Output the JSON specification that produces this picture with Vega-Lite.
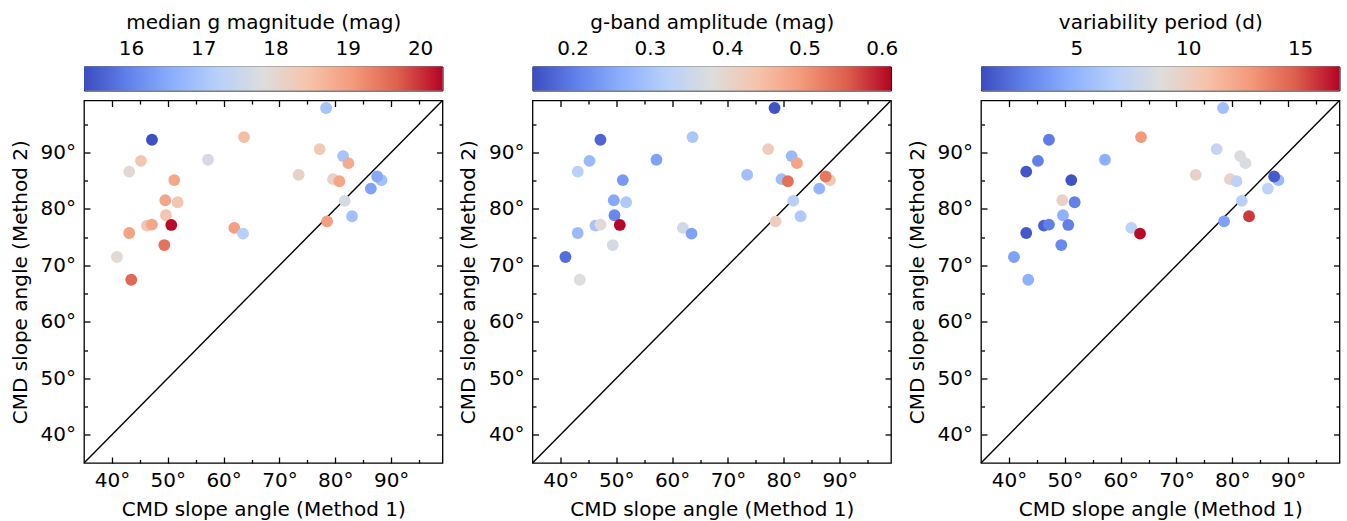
{
  "$schema": "https://vega.github.io/schema/vega-lite/v6.json",
  "padding": {"left": 9, "top": 11.5, "right": 5, "bottom": 5},
  "bounds": "flush",
  "columns": 3,
  "spacing": {"row": 10, "column": 89.5},
  "resolve": {"scale": {"color": "independent"}},
  "datasets": {
    "stars": [
      {"m1": 78.35, "m2": 97.87, "gmag": 16.95, "amp": 0.155, "per": 5.7},
      {"m1": 47.17, "m2": 92.25, "gmag": 15.4, "amp": 0.176, "per": 2.5},
      {"m1": 63.66, "m2": 92.72, "gmag": 18.55, "amp": 0.305, "per": 12.75},
      {"m1": 77.2, "m2": 90.6, "gmag": 18.3, "amp": 0.417, "per": 7.5},
      {"m1": 81.4, "m2": 89.35, "gmag": 16.95, "amp": 0.283, "per": 8.6},
      {"m1": 82.35, "m2": 88.1, "gmag": 18.8, "amp": 0.482, "per": 8.6},
      {"m1": 45.2, "m2": 88.5, "gmag": 18.4, "amp": 0.283, "per": 2.7},
      {"m1": 57.2, "m2": 88.7, "gmag": 17.7, "amp": 0.245, "per": 4.75},
      {"m1": 43.1, "m2": 86.6, "gmag": 17.95, "amp": 0.324, "per": 1.1},
      {"m1": 51.17, "m2": 85.1, "gmag": 18.9, "amp": 0.236, "per": 1.0},
      {"m1": 73.45, "m2": 86.04, "gmag": 18.1, "amp": 0.292, "per": 9.7},
      {"m1": 79.6, "m2": 85.27, "gmag": 18.1, "amp": 0.29, "per": 9.7},
      {"m1": 80.74, "m2": 84.9, "gmag": 18.9, "amp": 0.538, "per": 7.0},
      {"m1": 88.27, "m2": 85.09, "gmag": 16.9, "amp": 0.426, "per": 5.4},
      {"m1": 87.5, "m2": 85.74, "gmag": 16.5, "amp": 0.53, "per": 1.3},
      {"m1": 86.36, "m2": 83.6, "gmag": 16.4, "amp": 0.273, "per": 7.0},
      {"m1": 49.56, "m2": 81.54, "gmag": 18.9, "amp": 0.255, "per": 9.7},
      {"m1": 51.77, "m2": 81.18, "gmag": 18.4, "amp": 0.31, "per": 2.7},
      {"m1": 81.7, "m2": 81.42, "gmag": 17.7, "amp": 0.324, "per": 6.7},
      {"m1": 49.68, "m2": 78.88, "gmag": 18.4, "amp": 0.213, "per": 4.9},
      {"m1": 83.0, "m2": 78.7, "gmag": 16.9, "amp": 0.31, "per": 15.6},
      {"m1": 46.27, "m2": 77.04, "gmag": 18.35, "amp": 0.297, "per": 1.5},
      {"m1": 47.17, "m2": 77.22, "gmag": 18.9, "amp": 0.389, "per": 2.7},
      {"m1": 50.63, "m2": 77.16, "gmag": 20.25, "amp": 0.61, "per": 2.7},
      {"m1": 78.53, "m2": 77.8, "gmag": 19.0, "amp": 0.417, "per": 4.1},
      {"m1": 61.92, "m2": 76.63, "gmag": 19.0, "amp": 0.362, "per": 7.0},
      {"m1": 63.48, "m2": 75.62, "gmag": 17.2, "amp": 0.245, "per": 16.6},
      {"m1": 43.1, "m2": 75.74, "gmag": 18.95, "amp": 0.283, "per": 1.2},
      {"m1": 49.38, "m2": 73.6, "gmag": 19.5, "amp": 0.366, "per": 3.0},
      {"m1": 40.9, "m2": 71.48, "gmag": 17.95, "amp": 0.185, "per": 4.1},
      {"m1": 43.46, "m2": 67.46, "gmag": 19.6, "amp": 0.378, "per": 4.9}
    ],
    "diag": [{"lo": 35, "hi": 99.2}]
  },
  "concat": [
    {
      "width": 358.5, "height": 24,
      "data": {"values": [{"lo": 15.35, "hi": 20.31}]},
      "mark": {"type": "rect", "strokeWidth": 0, "fill": {"gradient": "linear", "x1": 0, "y1": 0, "x2": 1, "y2": 0, "stops": [
        {"offset": 0, "color": "#3b4cc0"}, {"offset": 0.125, "color": "#6282ea"}, {"offset": 0.25, "color": "#8db0fe"},
        {"offset": 0.375, "color": "#b8d0f9"}, {"offset": 0.5, "color": "#dddddd"}, {"offset": 0.625, "color": "#f5c4ac"},
        {"offset": 0.75, "color": "#f49a7b"}, {"offset": 0.875, "color": "#de604d"}, {"offset": 1, "color": "#b40426"}]}},
      "encoding": {
        "x": {"field": "lo", "type": "quantitative", "scale": {"domain": [15.35, 20.31], "nice": false, "zero": false},
          "axis": {"orient": "top", "values": [16, 17, 18, 19, 20], "tickSize": -6, "labelPadding": 14, "title": "median g magnitude (mag)", "titlePadding": 6.5}},
        "x2": {"field": "hi"}
      },
      "view": {"stroke": "black", "strokeWidth": 1}
    },
    {
      "width": 358.5, "height": 24,
      "data": {"values": [{"lo": 0.148, "hi": 0.612}]},
      "mark": {"type": "rect", "strokeWidth": 0, "fill": {"gradient": "linear", "x1": 0, "y1": 0, "x2": 1, "y2": 0, "stops": [
        {"offset": 0, "color": "#3b4cc0"}, {"offset": 0.125, "color": "#6282ea"}, {"offset": 0.25, "color": "#8db0fe"},
        {"offset": 0.375, "color": "#b8d0f9"}, {"offset": 0.5, "color": "#dddddd"}, {"offset": 0.625, "color": "#f5c4ac"},
        {"offset": 0.75, "color": "#f49a7b"}, {"offset": 0.875, "color": "#de604d"}, {"offset": 1, "color": "#b40426"}]}},
      "encoding": {
        "x": {"field": "lo", "type": "quantitative", "scale": {"domain": [0.148, 0.612], "nice": false, "zero": false},
          "axis": {"orient": "top", "values": [0.2, 0.3, 0.4, 0.5, 0.6], "format": ".1f", "tickSize": -6, "labelPadding": 14, "title": "g-band amplitude (mag)", "titlePadding": 6.5}},
        "x2": {"field": "hi"}
      },
      "view": {"stroke": "black", "strokeWidth": 1}
    },
    {
      "width": 358.5, "height": 24,
      "data": {"values": [{"lo": 0.74, "hi": 16.76}]},
      "mark": {"type": "rect", "strokeWidth": 0, "fill": {"gradient": "linear", "x1": 0, "y1": 0, "x2": 1, "y2": 0, "stops": [
        {"offset": 0, "color": "#3b4cc0"}, {"offset": 0.125, "color": "#6282ea"}, {"offset": 0.25, "color": "#8db0fe"},
        {"offset": 0.375, "color": "#b8d0f9"}, {"offset": 0.5, "color": "#dddddd"}, {"offset": 0.625, "color": "#f5c4ac"},
        {"offset": 0.75, "color": "#f49a7b"}, {"offset": 0.875, "color": "#de604d"}, {"offset": 1, "color": "#b40426"}]}},
      "encoding": {
        "x": {"field": "lo", "type": "quantitative", "scale": {"domain": [0.74, 16.76], "nice": false, "zero": false},
          "axis": {"orient": "top", "values": [5, 10, 15], "tickSize": -6, "labelPadding": 14, "title": "variability period (d)", "titlePadding": 6.5}},
        "x2": {"field": "hi"}
      },
      "view": {"stroke": "black", "strokeWidth": 1}
    },
    {
      "width": 358.5, "height": 362.5,
      "view": {"stroke": "black", "strokeWidth": 1.3},
      "resolve": {"axis": {"x": "independent", "y": "independent"}},
      "layer": [
        {
          "data": {"name": "diag"},
          "mark": {"type": "rule", "color": "black", "strokeWidth": 1.4},
          "encoding": {
            "x": {"field": "lo", "type": "quantitative", "scale": {"domain": [35, 99.2], "nice": false, "zero": false},
              "axis": {"orient": "bottom", "values": [40, 50, 60, 70, 80, 90], "tickSize": -6, "labelExpr": "datum.value + '°'", "labelPadding": 13.5, "title": "CMD slope angle (Method 1)", "titlePadding": 8.5}},
            "y": {"field": "lo", "type": "quantitative", "scale": {"domain": [35, 99.2], "nice": false, "zero": false},
              "axis": {"orient": "left", "values": [40, 50, 60, 70, 80, 90], "tickSize": -6, "labelExpr": "datum.value + '°'", "labelPadding": 14.5, "title": "CMD slope angle (Method 2)", "titlePadding": 10}},
            "x2": {"field": "hi"}, "y2": {"field": "hi"}
          }
        },
        {
          "data": {"name": "stars"},
          "mark": {"type": "circle", "size": 140, "opacity": 1},
          "encoding": {
            "x": {"field": "m1", "type": "quantitative", "scale": {"domain": [35, 99.2], "nice": false, "zero": false},
              "axis": {"orient": "bottom", "values": [45, 55, 65, 75, 85, 95], "tickSize": -3.5, "labels": false, "title": null}},
            "y": {"field": "m2", "type": "quantitative", "scale": {"domain": [35, 99.2], "nice": false, "zero": false},
              "axis": {"orient": "left", "values": [45, 55, 65, 75, 85, 95], "tickSize": -3.5, "labels": false, "title": null}},
            "color": {"field": "gmag", "type": "quantitative", "legend": null,
              "scale": {"domain": [15.35, 15.97, 16.59, 17.21, 17.83, 18.45, 19.07, 19.69, 20.31], "interpolate": "rgb",
                "range": ["#3b4cc0", "#6282ea", "#8db0fe", "#b8d0f9", "#dddddd", "#f5c4ac", "#f49a7b", "#de604d", "#b40426"]}}
          }
        },
        {
          "data": {"name": "diag"},
          "mark": {"type": "rule", "strokeOpacity": 0},
          "encoding": {
            "x": {"field": "lo", "type": "quantitative", "scale": {"domain": [35, 99.2], "nice": false, "zero": false},
              "axis": {"orient": "top", "values": [40, 50, 60, 70, 80, 90], "tickSize": -6, "labels": false, "title": null}},
            "y": {"field": "lo", "type": "quantitative", "scale": {"domain": [35, 99.2], "nice": false, "zero": false},
              "axis": {"orient": "right", "values": [40, 50, 60, 70, 80, 90], "tickSize": -6, "labels": false, "title": null}},
            "x2": {"field": "hi"}, "y2": {"field": "hi"}
          }
        },
        {
          "data": {"name": "diag"},
          "mark": {"type": "rule", "strokeOpacity": 0},
          "encoding": {
            "x": {"field": "lo", "type": "quantitative", "scale": {"domain": [35, 99.2], "nice": false, "zero": false},
              "axis": {"orient": "top", "values": [45, 55, 65, 75, 85, 95], "tickSize": -3.5, "labels": false, "title": null}},
            "y": {"field": "lo", "type": "quantitative", "scale": {"domain": [35, 99.2], "nice": false, "zero": false},
              "axis": {"orient": "right", "values": [45, 55, 65, 75, 85, 95], "tickSize": -3.5, "labels": false, "title": null}},
            "x2": {"field": "hi"}, "y2": {"field": "hi"}
          }
        }
      ]
    },
    {
      "width": 358.5, "height": 362.5,
      "view": {"stroke": "black", "strokeWidth": 1.3},
      "resolve": {"axis": {"x": "independent", "y": "independent"}},
      "layer": [
        {
          "data": {"name": "diag"},
          "mark": {"type": "rule", "color": "black", "strokeWidth": 1.4},
          "encoding": {
            "x": {"field": "lo", "type": "quantitative", "scale": {"domain": [35, 99.2], "nice": false, "zero": false},
              "axis": {"orient": "bottom", "values": [40, 50, 60, 70, 80, 90], "tickSize": -6, "labelExpr": "datum.value + '°'", "labelPadding": 13.5, "title": "CMD slope angle (Method 1)", "titlePadding": 8.5}},
            "y": {"field": "lo", "type": "quantitative", "scale": {"domain": [35, 99.2], "nice": false, "zero": false},
              "axis": {"orient": "left", "values": [40, 50, 60, 70, 80, 90], "tickSize": -6, "labelExpr": "datum.value + '°'", "labelPadding": 14.5, "title": "CMD slope angle (Method 2)", "titlePadding": 10}},
            "x2": {"field": "hi"}, "y2": {"field": "hi"}
          }
        },
        {
          "data": {"name": "stars"},
          "mark": {"type": "circle", "size": 140, "opacity": 1},
          "encoding": {
            "x": {"field": "m1", "type": "quantitative", "scale": {"domain": [35, 99.2], "nice": false, "zero": false},
              "axis": {"orient": "bottom", "values": [45, 55, 65, 75, 85, 95], "tickSize": -3.5, "labels": false, "title": null}},
            "y": {"field": "m2", "type": "quantitative", "scale": {"domain": [35, 99.2], "nice": false, "zero": false},
              "axis": {"orient": "left", "values": [45, 55, 65, 75, 85, 95], "tickSize": -3.5, "labels": false, "title": null}},
            "color": {"field": "amp", "type": "quantitative", "legend": null,
              "scale": {"domain": [0.148, 0.206, 0.264, 0.322, 0.38, 0.438, 0.496, 0.554, 0.612], "interpolate": "rgb",
                "range": ["#3b4cc0", "#6282ea", "#8db0fe", "#b8d0f9", "#dddddd", "#f5c4ac", "#f49a7b", "#de604d", "#b40426"]}}
          }
        },
        {
          "data": {"name": "diag"},
          "mark": {"type": "rule", "strokeOpacity": 0},
          "encoding": {
            "x": {"field": "lo", "type": "quantitative", "scale": {"domain": [35, 99.2], "nice": false, "zero": false},
              "axis": {"orient": "top", "values": [40, 50, 60, 70, 80, 90], "tickSize": -6, "labels": false, "title": null}},
            "y": {"field": "lo", "type": "quantitative", "scale": {"domain": [35, 99.2], "nice": false, "zero": false},
              "axis": {"orient": "right", "values": [40, 50, 60, 70, 80, 90], "tickSize": -6, "labels": false, "title": null}},
            "x2": {"field": "hi"}, "y2": {"field": "hi"}
          }
        },
        {
          "data": {"name": "diag"},
          "mark": {"type": "rule", "strokeOpacity": 0},
          "encoding": {
            "x": {"field": "lo", "type": "quantitative", "scale": {"domain": [35, 99.2], "nice": false, "zero": false},
              "axis": {"orient": "top", "values": [45, 55, 65, 75, 85, 95], "tickSize": -3.5, "labels": false, "title": null}},
            "y": {"field": "lo", "type": "quantitative", "scale": {"domain": [35, 99.2], "nice": false, "zero": false},
              "axis": {"orient": "right", "values": [45, 55, 65, 75, 85, 95], "tickSize": -3.5, "labels": false, "title": null}},
            "x2": {"field": "hi"}, "y2": {"field": "hi"}
          }
        }
      ]
    },
    {
      "width": 358.5, "height": 362.5,
      "view": {"stroke": "black", "strokeWidth": 1.3},
      "resolve": {"axis": {"x": "independent", "y": "independent"}},
      "layer": [
        {
          "data": {"name": "diag"},
          "mark": {"type": "rule", "color": "black", "strokeWidth": 1.4},
          "encoding": {
            "x": {"field": "lo", "type": "quantitative", "scale": {"domain": [35, 99.2], "nice": false, "zero": false},
              "axis": {"orient": "bottom", "values": [40, 50, 60, 70, 80, 90], "tickSize": -6, "labelExpr": "datum.value + '°'", "labelPadding": 13.5, "title": "CMD slope angle (Method 1)", "titlePadding": 8.5}},
            "y": {"field": "lo", "type": "quantitative", "scale": {"domain": [35, 99.2], "nice": false, "zero": false},
              "axis": {"orient": "left", "values": [40, 50, 60, 70, 80, 90], "tickSize": -6, "labelExpr": "datum.value + '°'", "labelPadding": 14.5, "title": "CMD slope angle (Method 2)", "titlePadding": 10}},
            "x2": {"field": "hi"}, "y2": {"field": "hi"}
          }
        },
        {
          "data": {"name": "stars"},
          "mark": {"type": "circle", "size": 140, "opacity": 1},
          "encoding": {
            "x": {"field": "m1", "type": "quantitative", "scale": {"domain": [35, 99.2], "nice": false, "zero": false},
              "axis": {"orient": "bottom", "values": [45, 55, 65, 75, 85, 95], "tickSize": -3.5, "labels": false, "title": null}},
            "y": {"field": "m2", "type": "quantitative", "scale": {"domain": [35, 99.2], "nice": false, "zero": false},
              "axis": {"orient": "left", "values": [45, 55, 65, 75, 85, 95], "tickSize": -3.5, "labels": false, "title": null}},
            "color": {"field": "per", "type": "quantitative", "legend": null,
              "scale": {"domain": [0.74, 2.74, 4.745, 6.75, 8.75, 10.75, 12.755, 14.76, 16.76], "interpolate": "rgb",
                "range": ["#3b4cc0", "#6282ea", "#8db0fe", "#b8d0f9", "#dddddd", "#f5c4ac", "#f49a7b", "#de604d", "#b40426"]}}
          }
        },
        {
          "data": {"name": "diag"},
          "mark": {"type": "rule", "strokeOpacity": 0},
          "encoding": {
            "x": {"field": "lo", "type": "quantitative", "scale": {"domain": [35, 99.2], "nice": false, "zero": false},
              "axis": {"orient": "top", "values": [40, 50, 60, 70, 80, 90], "tickSize": -6, "labels": false, "title": null}},
            "y": {"field": "lo", "type": "quantitative", "scale": {"domain": [35, 99.2], "nice": false, "zero": false},
              "axis": {"orient": "right", "values": [40, 50, 60, 70, 80, 90], "tickSize": -6, "labels": false, "title": null}},
            "x2": {"field": "hi"}, "y2": {"field": "hi"}
          }
        },
        {
          "data": {"name": "diag"},
          "mark": {"type": "rule", "strokeOpacity": 0},
          "encoding": {
            "x": {"field": "lo", "type": "quantitative", "scale": {"domain": [35, 99.2], "nice": false, "zero": false},
              "axis": {"orient": "top", "values": [45, 55, 65, 75, 85, 95], "tickSize": -3.5, "labels": false, "title": null}},
            "y": {"field": "lo", "type": "quantitative", "scale": {"domain": [35, 99.2], "nice": false, "zero": false},
              "axis": {"orient": "right", "values": [45, 55, 65, 75, 85, 95], "tickSize": -3.5, "labels": false, "title": null}},
            "x2": {"field": "hi"}, "y2": {"field": "hi"}
          }
        }
      ]
    }
  ],
  "config": {
    "font": "DejaVu Sans",
    "axis": {"labelFont": "DejaVu Sans", "titleFont": "DejaVu Sans", "labelFontSize": 20, "titleFontSize": 20, "titleFontWeight": "normal",
      "labelColor": "black", "titleColor": "black", "tickColor": "black", "tickWidth": 1.3, "domain": false, "grid": false},
    "view": {"stroke": "black"}
  }
}
